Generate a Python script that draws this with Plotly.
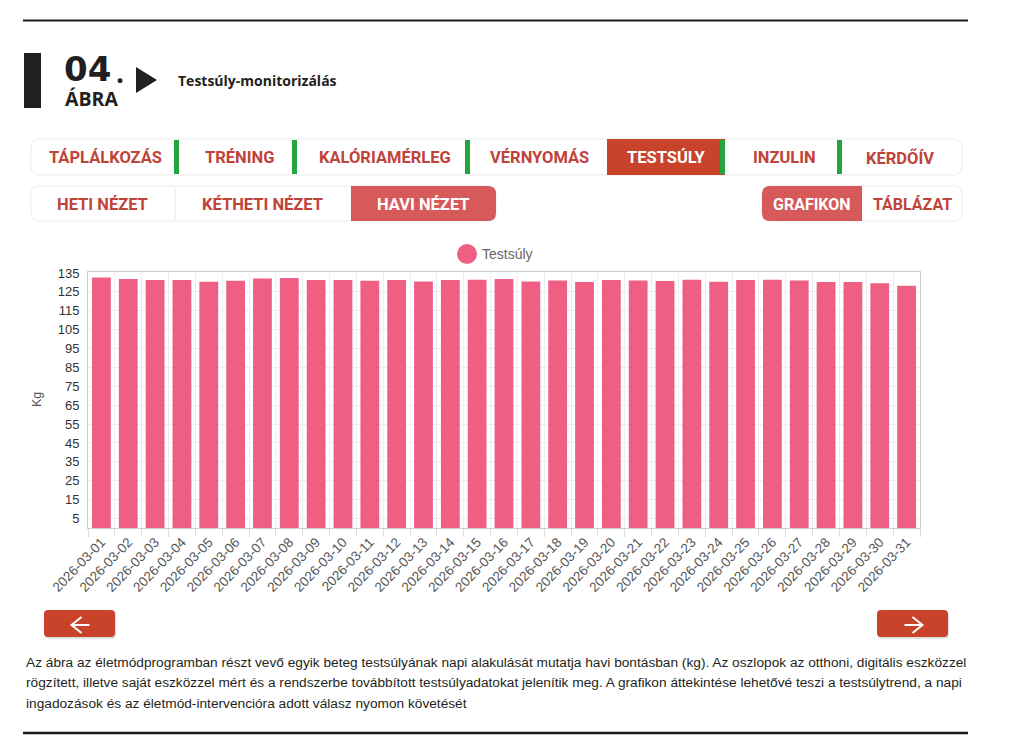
import plotly.graph_objects as go

# --- data ---
dates = [
    "2026-03-01", "2026-03-02", "2026-03-03", "2026-03-04", "2026-03-05",
    "2026-03-06", "2026-03-07", "2026-03-08", "2026-03-09", "2026-03-10",
    "2026-03-11", "2026-03-12", "2026-03-13", "2026-03-14", "2026-03-15",
    "2026-03-16", "2026-03-17", "2026-03-18", "2026-03-19", "2026-03-20",
    "2026-03-21", "2026-03-22", "2026-03-23", "2026-03-24", "2026-03-25",
    "2026-03-26", "2026-03-27", "2026-03-28", "2026-03-29", "2026-03-30",
    "2026-03-31",
]
weights = [
    132.6, 131.8, 131.2, 131.2, 130.3, 130.9, 132.1, 132.3, 131.2, 131.2,
    130.9, 131.2, 130.5, 131.2, 131.4, 131.8, 130.5, 131.0, 130.2, 131.2,
    131.0, 130.7, 131.4, 130.3, 131.2, 131.4, 131.0, 130.2, 130.2, 129.6,
    128.2,
]
y_ticks = [5, 15, 25, 35, 45, 55, 65, 75, 85, 95, 105, 115, 125, 135]

main_tabs = ["TÁPLÁLKOZÁS", "TRÉNING", "KALÓRIAMÉRLEG", "VÉRNYOMÁS", "TESTSÚLY", "INZULIN", "KÉRDŐÍV"]
view_tabs = ["HETI NÉZET", "KÉTHETI NÉZET", "HAVI NÉZET"]
mode_tabs = ["GRAFIKON", "TÁBLÁZAT"]

caption_lines = [
    "Az ábra az életmódprogramban részt vevő egyik beteg testsúlyának napi alakulását mutatja havi bontásban (kg). Az oszlopok az otthoni, digitális eszközzel",
    "rögzített, illetve saját eszközzel mért és a rendszerbe továbbított testsúlyadatokat jelenítik meg. A grafikon áttekintése lehetővé teszi a testsúlytrend, a napi",
    "ingadozások és az életmód-intervencióra adott válasz nyomon követését",
]

BAR_COLOR = "#ee5f83"
RED = "#c8432a"
RED_LIGHT = "#d65a5a"
TAB_TEXT = "#c0433a"
GREEN = "#22a53c"

# page geometry (browser pixels); body margin offset
OFF = 8
W, H = 998, 739
PL, PR, PT, PB = 88, 920, 272, 528


def X(px):
    return (px - PL) / (PR - PL)


def Y(py):
    return (PB - py) / (PB - PT)


def P(x, y):
    return f"{X(x):.5f},{Y(y):.5f}"


def rpath(x0, y0, x1, y1, r=6, tl=True, tr=True, br=True, bl=True):
    s = f"M{P(x0 + (r if tl else 0), y0)} L{P(x1 - (r if tr else 0), y0)}"
    if tr:
        s += f" Q{P(x1, y0)} {P(x1, y0 + r)}"
    s += f" L{P(x1, y1 - (r if br else 0))}"
    if br:
        s += f" Q{P(x1, y1)} {P(x1 - r, y1)}"
    s += f" L{P(x0 + (r if bl else 0), y1)}"
    if bl:
        s += f" Q{P(x0, y1)} {P(x0, y1 - r)}"
    s += f" L{P(x0, y0 + (r if tl else 0))}"
    if tl:
        s += f" Q{P(x0, y0)} {P(x0 + r, y0)}"
    return s + " Z"


shapes = []
annotations = []


def rect(x0, y0, x1, y1, fill, line=None, lw=0):
    shapes.append(dict(type="rect", xref="paper", yref="paper",
                       x0=X(x0), x1=X(x1), y0=Y(y1), y1=Y(y0),
                       fillcolor=fill, line=dict(width=lw, color=line or fill)))


def rounded(x0, y0, x1, y1, fill, line=None, lw=0, r=6, **corners):
    shapes.append(dict(type="path", xref="paper", yref="paper",
                       path=rpath(x0, y0, x1, y1, r, **corners),
                       fillcolor=fill, line=dict(width=lw, color=line or fill)))


def polyline(points, color="#ffffff", width=2):
    path = "M" + " L".join(P(x, y) for x, y in points)
    shapes.append(dict(type="path", xref="paper", yref="paper", path=path,
                       line=dict(color=color, width=width)))


def text(x, y, s, size=14, color="#000", family="Roboto", xanchor="center", bold=False):
    annotations.append(dict(xref="paper", yref="paper", x=X(x), y=Y(y),
                            text=f"<b>{s}</b>" if bold else s, showarrow=False,
                            xanchor=xanchor, yanchor="middle",
                            font=dict(size=size, color=color, family=family)))


# --- header ---
shapes.append(dict(type="line", xref="paper", yref="paper", x0=X(23), x1=X(968), y0=Y(20.5), y1=Y(20.5),
                   line=dict(color="#1a1a1a", width=2)))
rect(24, 53, 41, 108, "#231f20")
text(62, 69, "04", size=34, color="#231f20", family="DejaVu Sans", xanchor="left", bold=True)
text(120, 72, ".", size=28, color="#231f20", family="Open Sans", bold=True)
text(63, 98, "ÁBRA", size=19.5, color="#231f20", family="Open Sans", xanchor="left", bold=True)
shapes.append(dict(type="path", xref="paper", yref="paper",
                   path=f"M{P(136, 67)} L{P(157, 80)} L{P(136, 93)} Z",
                   fillcolor="#231f20", line=dict(width=0)))
text(176, 80, "Testsúly-monitorizálás", size=14, color="#231f20", family="Open Sans", xanchor="left", bold=True)

# --- main tab bar ---
rounded(31, 139, 962, 175, "#ffffff", line="#ececec", lw=1, r=9)
rect(607, 139, 725, 175, RED)
tab_centers = [105, 239, 385, 539, 666, 784, 900]
for lbl, cx in zip(main_tabs, tab_centers):
    active = lbl == "TESTSÚLY"
    text(cx, 157.5, lbl, size=16.5, color="#ffffff" if active else TAB_TEXT, bold=True)
for gx in [174, 292, 465, 720, 837]:
    rect(gx, 140, gx + 5, 174, GREEN)

# --- view / mode tabs ---
rounded(31, 186, 496, 221, "#ffffff", line="#ececec", lw=1, r=8)
rounded(351, 186, 496, 221, RED_LIGHT, r=8, tl=False, bl=False)
shapes.append(dict(type="line", xref="paper", yref="paper", x0=X(175), x1=X(175), y0=Y(187), y1=Y(220),
                   line=dict(color="#e6e6e6", width=1)))
for lbl, cx in zip(view_tabs, [102, 262, 423]):
    text(cx, 204.5, lbl, size=16.5, color="#ffffff" if lbl == "HAVI NÉZET" else TAB_TEXT, bold=True)

rounded(762, 186, 962, 221, "#ffffff", line="#ececec", lw=1, r=8)
rounded(762, 186, 862, 221, RED_LIGHT, r=8, tr=False, br=False)
for lbl, cx in zip(mode_tabs, [812, 912]):
    text(cx, 204.5, lbl, size=16, color="#ffffff" if lbl == "GRAFIKON" else TAB_TEXT, bold=True)

# --- chart legend (circle + label) and y title ---
shapes.append(dict(type="circle", xref="paper", yref="paper",
                   x0=X(457), x1=X(477), y0=Y(264), y1=Y(244),
                   fillcolor=BAR_COLOR, line=dict(width=0)))
text(480, 254, "Testsúly", size=14, color="#666666", family="Liberation Sans", xanchor="left")
annotations.append(dict(xref="paper", yref="paper", x=X(37), y=Y(400), text="Kg", showarrow=False,
                        textangle=-90, xanchor="center", yanchor="middle",
                        font=dict(size=12.5, color="#555555", family="Liberation Sans")))

# --- nav buttons ---
for x0, d in [(44, -1), (877, 1)]:
    rounded(x0 + 1, 612, x0 + 72, 639, "#e2e2e2", r=4)
    rounded(x0, 610, x0 + 71, 637, RED, r=4)
    cx = x0 + 36.5
    polyline([(cx - 9, 625), (cx + 9, 625)])
    polyline([(cx - 1 * d, 617), (cx + 9 * d, 625), (cx - 1 * d, 633)] if d > 0 else
             [(cx + 1, 617), (cx - 9, 625), (cx + 1, 633)])

# --- caption ---
for i, line in enumerate(caption_lines):
    text(24, 662 + i * 20.5, line, size=13.7, color="#231f20",
         family="Liberation Sans", xanchor="left")
shapes.append(dict(type="line", xref="paper", yref="paper", x0=X(23), x1=X(968), y0=Y(733), y1=Y(733),
                   line=dict(color="#1a1a1a", width=2.5)))

fig = go.Figure()
fig.add_trace(go.Bar(x=dates, y=weights, marker=dict(color=BAR_COLOR, line=dict(width=0)),
                     name="Testsúly", showlegend=False))

fig.update_layout(
    width=W, height=H,
    margin=dict(l=PL - OFF, r=W - (PR - OFF), t=PT - OFF, b=H - (PB - OFF), pad=0),
    paper_bgcolor="#ffffff", plot_bgcolor="#ffffff",
    bargap=0.3,
    shapes=shapes, annotations=annotations,
    xaxis=dict(
        type="category", tickson="boundaries", ticks="outside", ticklen=8, tickcolor="#dddddd",
        showgrid=True, gridcolor="#eceef0", showline=True, linecolor="#cccccc", mirror=True,
        tickangle=-46, tickfont=dict(size=13.5, color="#555555", family="Liberation Sans"),
    ),
    yaxis=dict(
        range=[0, 135.5], tickvals=y_ticks, showgrid=True, gridcolor="#eceef0",
        showline=True, linecolor="#cccccc", mirror=True, zeroline=False, ticks="",
        ticklabelstandoff=5,
        tickfont=dict(size=13, color="#333333", family="Liberation Sans"),
    ),
    font=dict(family="Liberation Sans"),
)

fig.write_html("out.html")
